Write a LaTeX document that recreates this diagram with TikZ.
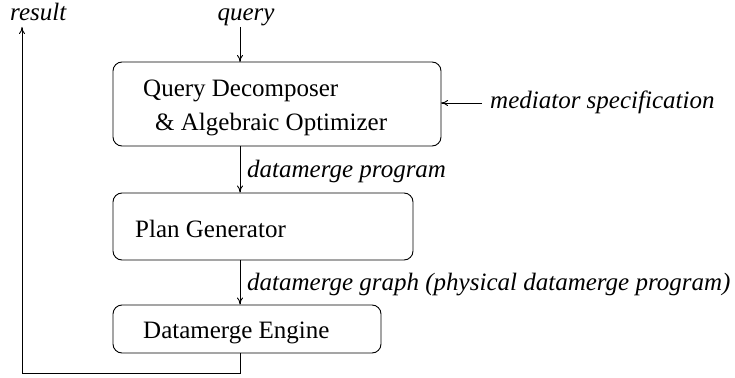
\documentclass[tikz,border=0pt]{standalone}
\usepackage{fontspec}
\setmainfont{Liberation Serif}
\usetikzlibrary{arrows.meta}
\begin{document}
\begin{tikzpicture}[x=1pt,y=-1pt,
  box/.style={draw,rounded corners=9pt,line width=0.9pt,inner sep=0pt},
  lbl/.style={font=\fontsize{25}{30}\selectfont\itshape,inner sep=0pt},
  txt/.style={font=\fontsize{25}{30}\selectfont,inner sep=0pt},
  conn/.style={line width=0.9pt,-{To[length=7pt,width=6pt]}},
  ln/.style={line width=0.9pt}]
\useasboundingbox (0,0) rectangle (735,377);
\node[box,minimum width=328pt,minimum height=84pt] (b1) at (277,104) {};
\node[box,minimum width=300pt,minimum height=67pt] (b2) at (263,226.5) {};
\node[box,minimum width=268pt,minimum height=48pt] (b3) at (247,329) {};
\node[txt,anchor=base west] (t1a) at (143,97) {Query Decomposer};
\node[txt,anchor=base west] (t1b) at (155,130) {\& Algebraic Optimizer};
\node[txt,anchor=base west] (t2) at (135,237) {Plan Generator};
\node[txt,anchor=base west] (t3) at (143,338) {Datamerge Engine};
\node[lbl,anchor=base] (q) at (246,21) {query};
\node[lbl,anchor=base west] (r) at (10,21) {result};
\node[lbl,anchor=base west] (m) at (490,108) {mediator specification};
\node[lbl,anchor=base west] (l1) at (247,177) {datamerge program};
\node[lbl,anchor=base west] (l2) at (247,290) {datamerge graph (physical datamerge program)};
\coordinate (qs) at (240,27);
\coordinate (qe) at (240,62);
\coordinate (ms) at (482,103);
\coordinate (me) at (441,103);
\coordinate (c1) at (240,373);
\coordinate (c2) at (22,373);
\coordinate (rt) at (22,27);
\draw[conn] (qs) -- (qe);
\draw[conn] (ms) -- (me);
\draw[conn] (b1.south -| qe) -- (b2.north -| qe);
\draw[conn] (b2.south -| qe) -- (b3.north -| qe);
\draw[ln,-{To[length=7pt,width=6pt]}] (b3.south -| qe) -- (c1) -- (c2) -- (rt);
\end{tikzpicture}
\end{document}
